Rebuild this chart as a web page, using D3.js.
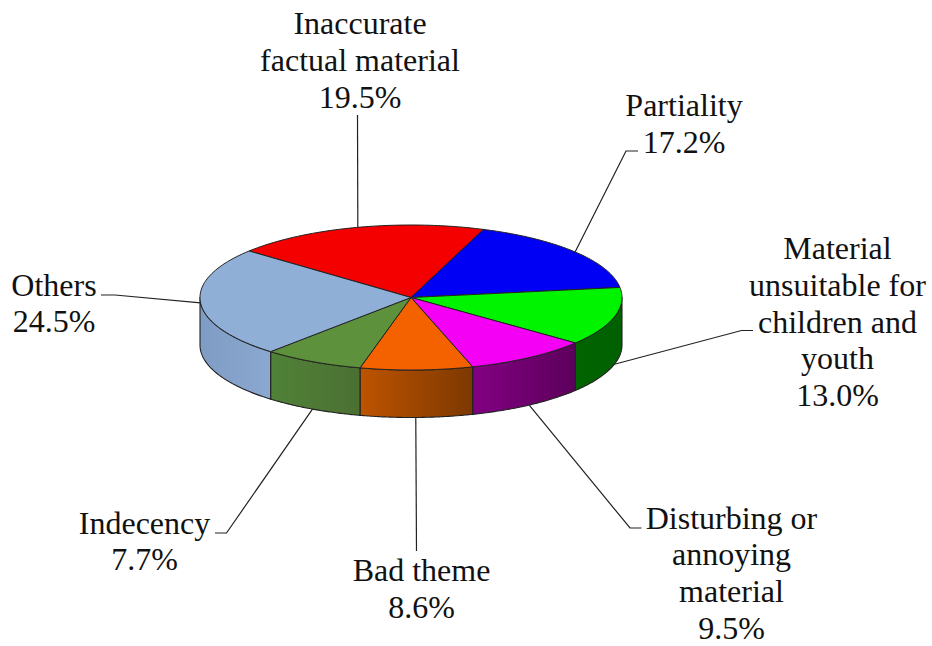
<!DOCTYPE html>
<html>
<head>
<meta charset="utf-8">
<script src="https://cdn.jsdelivr.net/npm/d3@7"></script>
<style>
  body { margin: 0; background: #fff; }
  text { font-family: "Liberation Serif", serif; font-size: 32px; fill: #111; }
</style>
</head>
<body>
<div id="pie"></div>
<script>
// Data
const categories = ["Inaccurate factual material", "Partiality", "Material unsuitable for children and youth",
    "Disturbing or annoying material", "Bad theme", "Indecency", "Others"];
const shares = [19.5, 17.2, 13.0, 9.5, 8.6, 7.7, 24.5];
const labelLines = [
    ["Inaccurate", "factual material"],
    ["Partiality"],
    ["Material", "unsuitable for", "children and", "youth"],
    ["Disturbing or", "annoying", "material"],
    ["Bad theme"],
    ["Indecency"],
    ["Others"]
];

// Colours
const topColors = ["#f40000", "#0000f4", "#00f400", "#f400f4", "#f46200", "#5e913c", "#8fafd6"];
const wallLeft = ["#f40000", "#0000f4", "#006400", "#820082", "#bd5400", "#508238", "#7f9cc4"];
const wallRight = ["#f40000", "#0000f4", "#006000", "#5c005c", "#7d3800", "#4b7032", "#8aa8d0"];

// Layout of the labels: centre x, first baseline, line gap
const labelPos = [[360, 34], [684, 116], [837.5, 259], [731.5, 528.5], [421.5, 581], [144.5, 533.5], [54, 295.5]];
const lineGap = 36.8;
// Leader lines: elbow and end point next to the label
const leaderEnds = [
    [[357.5, 115]],
    [[626, 151], [638, 151]],
    [[741.5, 330.5], [753, 330.5]],
    [[630, 528], [641.5, 528]],
    [[416.5, 551]],
    [[226.5, 533], [215, 533]],
    [[115, 295], [101, 295]]
];
// Small shift (degrees) of where a leader leaves the rim
const leaderNudge = [0.4, 0, 0, 0, 0.2, 0, 0];

const width = 932, height = 646;
const cx = 411, cy = 297.5, rx = 211, ry = 72.5, depth = 47.5;
const deg = Math.PI / 180;

const svg = d3.select("#pie")
    .append("svg")
    .attr("width", width)
    .attr("height", height);

const slices = d3.pie()
    .sort(null)
    .value(d => d)
    .startAngle(-50.1 * deg)
    .endAngle(309.9 * deg)(shares);

// Project pie angle on the tilted ellipse
const project = (a, drop = 0) => [cx + rx * Math.sin(a), cy - ry * Math.cos(a) + drop];
const line = d3.line();
const arcPoints = (a0, a1, drop = 0) => d3.range(0, 61).map(i => project(a0 + (a1 - a0) * i / 60, drop));

// Gradients for the side walls
const defs = svg.append("defs");
slices.forEach((s, i) => {
    const grad = defs.append("linearGradient")
        .attr("id", `wall${i}`)
        .attr("x1", "0").attr("x2", "1").attr("y1", "0").attr("y2", "0");
    grad.append("stop").attr("offset", "0").attr("stop-color", wallLeft[i]);
    grad.append("stop").attr("offset", "1").attr("stop-color", wallRight[i]);
});

// Leader lines go under the pie
slices.forEach((s, i) => {
    const mid = (s.startAngle + s.endAngle) / 2 + leaderNudge[i] * deg;
    // wall is only in the way for the slices that sit well in front
    const front = Math.cos(mid) < -0.2;
    const start = project(mid, front ? depth : 0);
    svg.append("path")
        .attr("d", line([start, ...leaderEnds[i]]))
        .attr("fill", "none")
        .attr("stroke", "#222")
        .attr("stroke-width", 1.2);
});

// Side walls, only the part facing the viewer
slices.forEach((s, i) => {
    const a0 = Math.max(s.startAngle, 90 * deg);
    const a1 = Math.min(s.endAngle, 270 * deg);
    if (a1 <= a0) return;
    const pts = arcPoints(a0, a1).concat(arcPoints(a1, a0, depth));
    svg.append("path")
        .attr("d", line(pts) + "Z")
        .attr("fill", `url(#wall${i})`)
        .attr("stroke", "#222")
        .attr("stroke-width", 1.1)
        .attr("stroke-linejoin", "round");
});

// Top of the pie
svg.selectAll(".slice")
    .data(slices)
    .enter()
    .append("path")
    .attr("class", "slice")
    .attr("d", d => line([[cx, cy], ...arcPoints(d.startAngle, d.endAngle)]) + "Z")
    .attr("fill", (d, i) => topColors[i])
    .attr("stroke", "#222")
    .attr("stroke-width", 1)
    .attr("stroke-linejoin", "round");

// Labels
slices.forEach((s, i) => {
    const txt = svg.append("text").attr("text-anchor", "middle");
    labelLines[i].concat(shares[i].toFixed(1) + "%").forEach((t, j) => {
        txt.append("tspan")
            .attr("x", labelPos[i][0])
            .attr("y", labelPos[i][1] + j * lineGap)
            .text(t);
    });
});
</script>
</body>
</html>
